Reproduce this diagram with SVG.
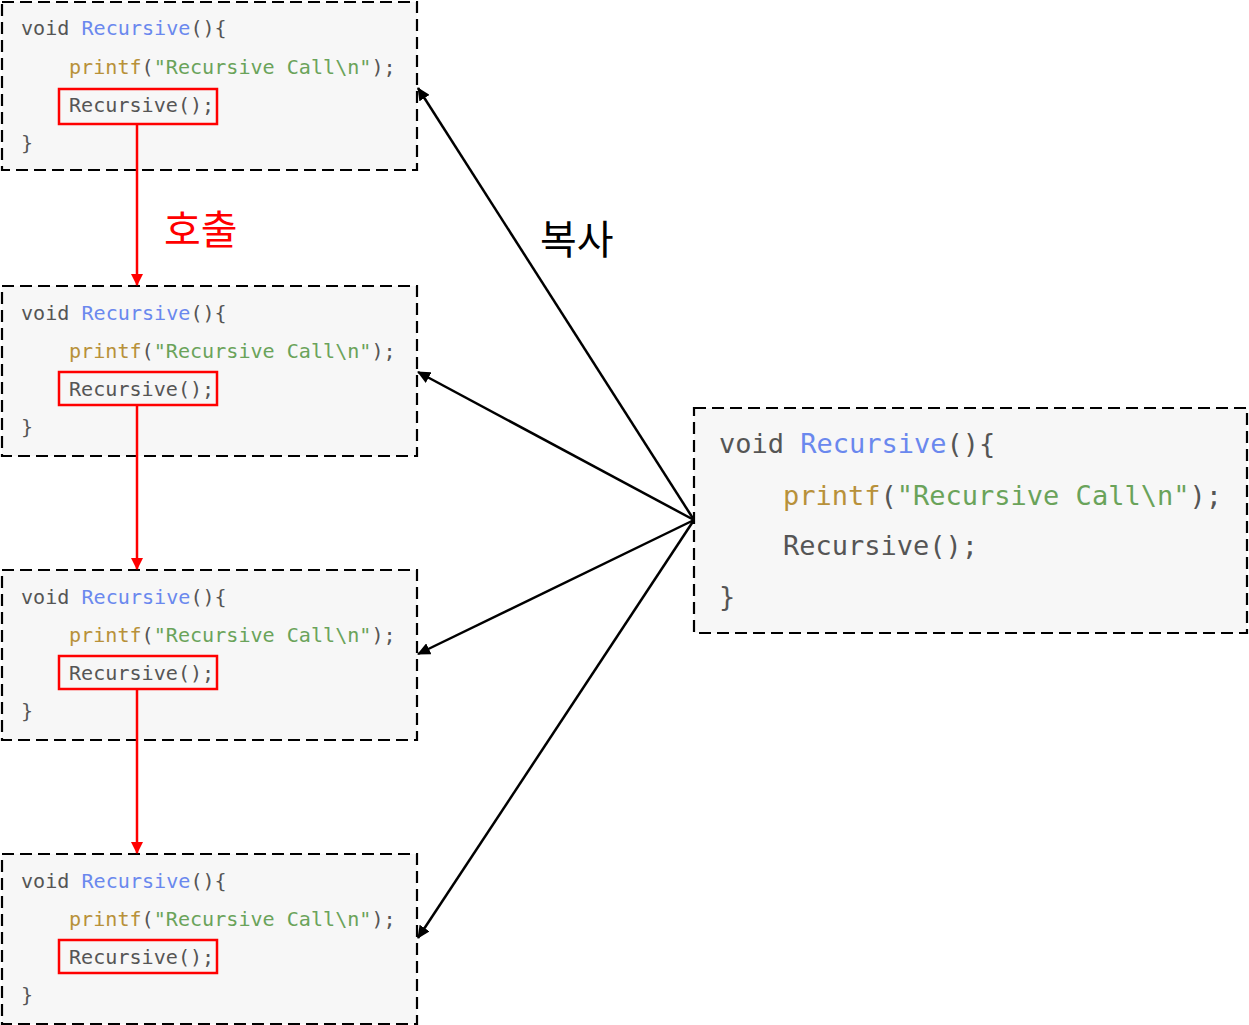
<svg xmlns="http://www.w3.org/2000/svg" width="1249" height="1025" viewBox="0 0 1249 1025">
<style>
.box{fill:#f7f7f7;stroke:#000;stroke-width:2.2;stroke-dasharray:12,6}
.code{font-family:"DejaVu Sans Mono","Liberation Mono",monospace;font-size:20.1px;fill:#555}
.big{font-size:27px}
.kw{fill:#555}.fn{fill:#6a88ee}.pf{fill:#b8913a}.st{fill:#6aa35a}
.hl{fill:none;stroke:#f00;stroke-width:2.5}
.red{stroke:#f00;stroke-width:2.5;fill:none}
.blk{stroke:#000;stroke-width:2.5;fill:none}
.lbl{font-family:"Noto Sans CJK KR","Noto Sans",sans-serif;font-size:40px}
</style>
<defs>
<marker id="ar" markerWidth="12" markerHeight="12" refX="11" refY="6" orient="auto" markerUnits="userSpaceOnUse"><path d="M0,0 L12,6 L0,12 z" fill="#f00"/></marker>
<marker id="ab" markerWidth="13" markerHeight="12" refX="12" refY="6" orient="auto" markerUnits="userSpaceOnUse"><path d="M0,0 L13,6 L0,12 z" fill="#000"/></marker>
</defs>
<rect width="1249" height="1025" fill="#fff"/>
<g id="node1">
<rect class="box" x="2" y="2" width="415" height="168"/>
<text class="code" x="21" y="35"><tspan class="kw">void </tspan><tspan class="fn">Recursive</tspan>(){</text>
<text class="code" x="69" y="74"><tspan class="pf">printf</tspan>(<tspan class="st">"Recursive Call\n"</tspan>);</text>
<text class="code" x="69" y="112">Recursive();</text>
<text class="code" x="21" y="150">}</text>
<rect class="hl" x="59" y="89" width="158" height="35"/>
</g>
<g id="node2">
<rect class="box" x="2" y="286" width="415" height="170"/>
<text class="code" x="21" y="320"><tspan class="kw">void </tspan><tspan class="fn">Recursive</tspan>(){</text>
<text class="code" x="69" y="358"><tspan class="pf">printf</tspan>(<tspan class="st">"Recursive Call\n"</tspan>);</text>
<text class="code" x="69" y="396">Recursive();</text>
<text class="code" x="21" y="434">}</text>
<rect class="hl" x="59" y="372" width="158" height="33"/>
</g>
<g id="node3">
<rect class="box" x="2" y="570" width="415" height="170"/>
<text class="code" x="21" y="604"><tspan class="kw">void </tspan><tspan class="fn">Recursive</tspan>(){</text>
<text class="code" x="69" y="642"><tspan class="pf">printf</tspan>(<tspan class="st">"Recursive Call\n"</tspan>);</text>
<text class="code" x="69" y="680">Recursive();</text>
<text class="code" x="21" y="718">}</text>
<rect class="hl" x="59" y="656" width="158" height="33"/>
</g>
<g id="node4">
<rect class="box" x="2" y="854" width="415" height="170"/>
<text class="code" x="21" y="888"><tspan class="kw">void </tspan><tspan class="fn">Recursive</tspan>(){</text>
<text class="code" x="69" y="926"><tspan class="pf">printf</tspan>(<tspan class="st">"Recursive Call\n"</tspan>);</text>
<text class="code" x="69" y="964">Recursive();</text>
<text class="code" x="21" y="1002">}</text>
<rect class="hl" x="59" y="940" width="158" height="33"/>
</g>
<g id="source">
<rect class="box" x="694" y="408" width="553" height="225"/>
<text class="code big" x="719" y="453"><tspan class="kw">void </tspan><tspan class="fn">Recursive</tspan>(){</text>
<text class="code big" x="783" y="505"><tspan class="pf">printf</tspan>(<tspan class="st">"Recursive Call\n"</tspan>);</text>
<text class="code big" x="783" y="555">Recursive();</text>
<text class="code big" x="719" y="606">}</text>
</g>
<g id="connectors">
<line class="red" x1="137" y1="124" x2="137" y2="285" marker-end="url(#ar)"/>
<line class="red" x1="137" y1="405" x2="137" y2="569" marker-end="url(#ar)"/>
<line class="red" x1="137" y1="689" x2="137" y2="853" marker-end="url(#ar)"/>
<line class="blk" x1="694" y1="520" x2="418" y2="88" marker-end="url(#ab)"/>
<line class="blk" x1="694" y1="520" x2="418" y2="372" marker-end="url(#ab)"/>
<line class="blk" x1="694" y1="520" x2="418" y2="654" marker-end="url(#ab)"/>
<line class="blk" x1="694" y1="520" x2="418" y2="938" marker-end="url(#ab)"/>
</g>
<text class="lbl" x="164" y="244" fill="#f00">호출</text>
<text class="lbl" x="540" y="254" fill="#000">복사</text>
</svg>
